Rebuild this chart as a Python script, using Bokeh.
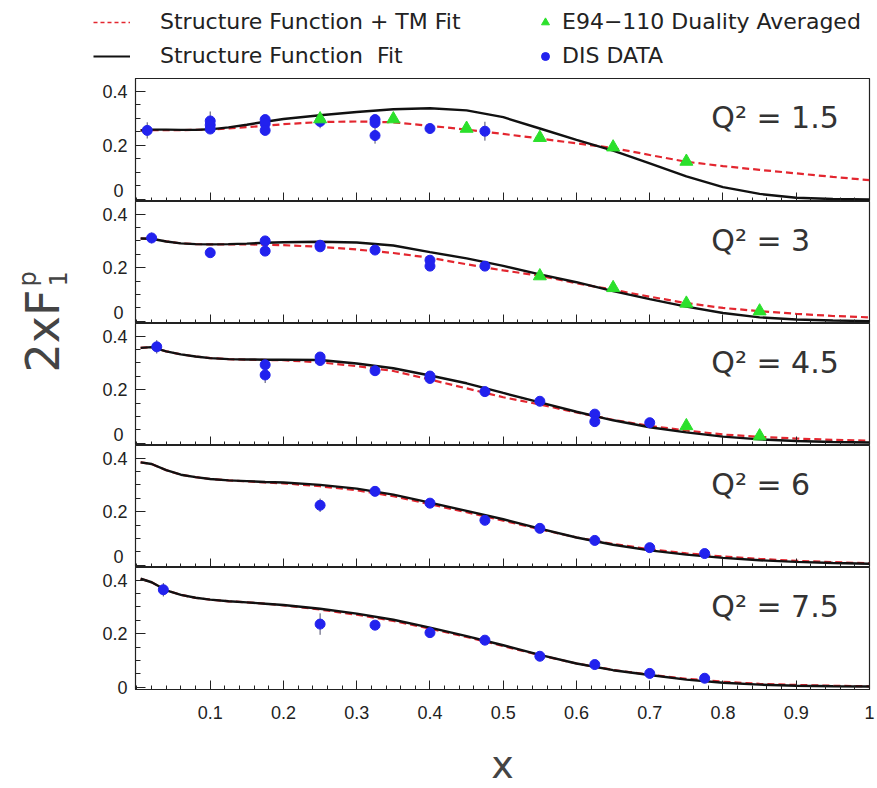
import math
from bokeh.plotting import figure
from bokeh.layouts import column, row
from bokeh.models import (Range1d, FixedTicker, CustomJSTickFormatter, Label, Legend, LegendItem,
                          LinearAxis)
from bokeh.core.properties import value
from bokeh.embed import file_html
from bokeh.resources import INLINE

# ---------------- data ----------------
q2_values = ["1.5", "3", "4.5", "6", "7.5"]
x_ticks = [0.1, 0.2, 0.3, 0.4, 0.5, 0.6, 0.7, 0.8, 0.9, 1.0]
y_ticks = [0.0, 0.2, 0.4]
y_minor = [0.05, 0.1, 0.15, 0.25, 0.3, 0.35]

fit_x = [0.005, 0.02, 0.04, 0.06, 0.08, 0.1, 0.125, 0.15, 0.175, 0.2, 0.25, 0.3, 0.35,
         0.4, 0.45, 0.5, 0.55, 0.6, 0.65, 0.7, 0.75, 0.8, 0.85, 0.9, 0.95, 1.0]

sf_q15 = [0.255, 0.258, 0.258, 0.257, 0.257, 0.259, 0.266, 0.276, 0.287, 0.297, 0.311, 0.323, 0.333,
          0.337, 0.329, 0.304, 0.262, 0.220, 0.180, 0.133, 0.085, 0.045, 0.020, 0.006, 0.001, 0.000]
tm_q15 = [0.255, 0.256, 0.256, 0.256, 0.257, 0.258, 0.262, 0.267, 0.272, 0.278, 0.286, 0.288, 0.285,
          0.272, 0.258, 0.242, 0.225, 0.207, 0.190, 0.164, 0.139, 0.123, 0.109, 0.096, 0.083, 0.071]
sf_q3 = [0.309, 0.308, 0.298, 0.291, 0.288, 0.287, 0.288, 0.290, 0.293, 0.295, 0.297, 0.294, 0.283,
         0.258, 0.235, 0.207, 0.175, 0.146, 0.113, 0.083, 0.055, 0.031, 0.015, 0.007, 0.003, 0.001]
tm_q3 = [0.309, 0.308, 0.298, 0.291, 0.288, 0.287, 0.287, 0.287, 0.286, 0.284, 0.278, 0.268, 0.255,
         0.237, 0.213, 0.190, 0.170, 0.142, 0.118, 0.092, 0.068, 0.050, 0.038, 0.028, 0.020, 0.015]
sf_q45 = [0.356, 0.359, 0.343, 0.332, 0.324, 0.318, 0.314, 0.313, 0.312, 0.312, 0.311, 0.298, 0.280,
          0.253, 0.224, 0.188, 0.153, 0.118, 0.086, 0.060, 0.041, 0.025, 0.015, 0.009, 0.005, 0.003]
tm_q45 = [0.356, 0.359, 0.343, 0.332, 0.324, 0.318, 0.314, 0.312, 0.311, 0.310, 0.302, 0.288, 0.270,
          0.238, 0.205, 0.172, 0.145, 0.115, 0.088, 0.065, 0.048, 0.033, 0.024, 0.018, 0.013, 0.010]
sf_q6 = [0.384, 0.378, 0.355, 0.338, 0.329, 0.322, 0.317, 0.314, 0.311, 0.309, 0.300, 0.286, 0.264,
         0.234, 0.203, 0.172, 0.137, 0.104, 0.077, 0.056, 0.040, 0.028, 0.019, 0.013, 0.009, 0.006]
tm_q6 = [0.384, 0.378, 0.355, 0.338, 0.329, 0.322, 0.317, 0.313, 0.309, 0.306, 0.295, 0.280, 0.258,
         0.228, 0.198, 0.167, 0.135, 0.104, 0.080, 0.060, 0.045, 0.033, 0.024, 0.017, 0.012, 0.008]
sf_q75 = [0.405, 0.392, 0.362, 0.345, 0.334, 0.327, 0.321, 0.317, 0.312, 0.307, 0.293, 0.275, 0.252,
          0.223, 0.191, 0.157, 0.121, 0.089, 0.064, 0.046, 0.029, 0.017, 0.010, 0.006, 0.004, 0.003]
tm_q75 = [0.405, 0.392, 0.362, 0.345, 0.334, 0.327, 0.321, 0.317, 0.312, 0.306, 0.290, 0.271, 0.248,
          0.219, 0.188, 0.154, 0.120, 0.089, 0.065, 0.047, 0.032, 0.021, 0.013, 0.009, 0.006, 0.004]

# DIS data
dis_x_q15 = [0.014, 0.1, 0.1, 0.1, 0.175, 0.175, 0.175, 0.25, 0.325, 0.325, 0.325, 0.4, 0.475]
dis_y_q15 = [0.255, 0.290, 0.275, 0.260, 0.295, 0.280, 0.255, 0.288, 0.295, 0.283, 0.236, 0.262, 0.252]
dis_e_q15 = [0.030, 0.035, 0.010, 0.010, 0.010, 0.010, 0.010, 0.025, 0.010, 0.010, 0.030, 0.010, 0.035]
dis_x_q3 = [0.02, 0.1, 0.175, 0.175, 0.25, 0.25, 0.325, 0.4, 0.4, 0.475]
dis_y_q3 = [0.311, 0.256, 0.300, 0.262, 0.284, 0.278, 0.266, 0.228, 0.206, 0.206]
dis_e_q3 = [0.020, 0.008, 0.010, 0.010, 0.010, 0.010, 0.010, 0.010, 0.010, 0.010]
dis_x_q45 = [0.027, 0.175, 0.175, 0.25, 0.25, 0.325, 0.4, 0.4, 0.475, 0.55, 0.625, 0.625, 0.7]
dis_y_q45 = [0.360, 0.293, 0.255, 0.322, 0.309, 0.271, 0.251, 0.242, 0.193, 0.157, 0.109, 0.081, 0.077]
dis_e_q45 = [0.025, 0.010, 0.030, 0.010, 0.010, 0.010, 0.010, 0.010, 0.010, 0.010, 0.012, 0.012, 0.005]
dis_x_q6 = [0.25, 0.325, 0.4, 0.475, 0.55, 0.625, 0.7, 0.775]
dis_y_q6 = [0.224, 0.276, 0.232, 0.168, 0.138, 0.093, 0.066, 0.044]
dis_e_q6 = [0.025, 0.010, 0.010, 0.010, 0.008, 0.006, 0.005, 0.004]
dis_x_q75 = [0.036, 0.25, 0.325, 0.4, 0.475, 0.55, 0.625, 0.7, 0.775]
dis_y_q75 = [0.364, 0.236, 0.232, 0.204, 0.176, 0.116, 0.085, 0.052, 0.034]
dis_e_q75 = [0.025, 0.040, 0.010, 0.010, 0.010, 0.008, 0.006, 0.005, 0.004]

# E94-110 duality averaged
e94_x_q15 = [0.25, 0.35, 0.45, 0.55, 0.65, 0.75]
e94_y_q15 = [0.297, 0.297, 0.262, 0.228, 0.193, 0.140]
e94_x_q3 = [0.55, 0.65, 0.75, 0.85]
e94_y_q3 = [0.169, 0.125, 0.067, 0.038]
e94_x_q45 = [0.75, 0.85]
e94_y_q45 = [0.065, 0.027]
e94_x_q6 = []
e94_y_q6 = []
e94_x_q75 = []
e94_y_q75 = []

# ---------------- styling ----------------
RED = "#e3262f"
BLACK = "#111111"
BLUE = "#2222ee"
GREEN = "#2be02b"
AXC = "#222222"
TICK_FONT = "Liberation Sans"
TEXT_FONT = "DejaVu Sans"

sf_list = [sf_q15, sf_q3, sf_q45, sf_q6, sf_q75]
tm_list = [tm_q15, tm_q3, tm_q45, tm_q6, tm_q75]
dis_list = [(dis_x_q15, dis_y_q15, dis_e_q15), (dis_x_q3, dis_y_q3, dis_e_q3),
            (dis_x_q45, dis_y_q45, dis_e_q45), (dis_x_q6, dis_y_q6, dis_e_q6),
            (dis_x_q75, dis_y_q75, dis_e_q75)]
e94_list = [(e94_x_q15, e94_y_q15), (e94_x_q3, e94_y_q3), (e94_x_q45, e94_y_q45),
            (e94_x_q6, e94_y_q6), (e94_x_q75, e94_y_q75)]

x_minor = [round(0.02 * k, 2) for k in range(51)]
frame_heights = [123, 122, 122, 122, 122]
BOTTOM = 42
Y0, Y1 = -0.008, 0.447

panels = []
for i in range(5):
    last = (i == 4)
    p = figure(width=787, height=frame_heights[i] + (BOTTOM if last else 0),
               x_range=Range1d(-0.002, 1.0), y_range=Range1d(Y0, Y1),
               output_backend="svg", toolbar_location=None, title=None,
               min_border_left=45, min_border_right=8, min_border_top=0,
               min_border_bottom=(BOTTOM if last else 0))
    p.grid.visible = False
    p.outline_line_color = AXC
    p.outline_line_width = 1.2
    p.background_fill_color = "white"
    p.border_fill_color = "white"

    # y axis (ticks + labels)
    ya = p.yaxis[0]
    ya.ticker = FixedTicker(ticks=y_ticks, minor_ticks=y_minor)
    if last:
        ya.formatter = CustomJSTickFormatter(code="return Math.abs(tick) < 1e-9 ? '0' : tick.toFixed(1);")
    else:
        ya.formatter = CustomJSTickFormatter(code="return Math.abs(tick) < 1e-9 ? '' : tick.toFixed(1);")
    ya.major_tick_in = 10
    ya.major_tick_out = 0
    ya.minor_tick_in = 5
    ya.minor_tick_out = 0
    ya.major_label_standoff = 8
    ya.major_label_text_font = TICK_FONT
    ya.major_label_text_font_size = "18px"
    ya.major_label_text_color = AXC
    ya.axis_line_color = AXC
    ya.major_tick_line_color = AXC
    ya.minor_tick_line_color = AXC

    if not last:
        # the "0" label of the upper panels, lifted so that it stays inside this panel
        za = LinearAxis(ticker=FixedTicker(ticks=[0.0]),
                        formatter=CustomJSTickFormatter(code="return '0';"))
        za.major_tick_in = 0
        za.major_tick_out = 0
        za.minor_tick_in = 0
        za.minor_tick_out = 0
        za.axis_line_color = None
        za.major_tick_line_color = None
        za.minor_tick_line_color = None
        za.major_label_standoff = -24
        za.major_label_text_align = "right"
        za.major_label_text_font = TICK_FONT
        za.major_label_text_font_size = "18px"
        za.major_label_text_color = AXC
        za.major_label_text_baseline = "alphabetic"
        p.add_layout(za, "left")

    # x axis
    xa = p.xaxis[0]
    xa.ticker = FixedTicker(ticks=x_ticks, minor_ticks=x_minor)
    xa.major_tick_in = 9
    xa.major_tick_out = 0
    xa.minor_tick_in = 4
    xa.minor_tick_out = 0
    xa.axis_line_color = AXC
    xa.major_tick_line_color = AXC
    xa.minor_tick_line_color = AXC
    if last:
        xa.formatter = CustomJSTickFormatter(code="return Math.abs(tick - 1) < 1e-9 ? '1' : tick.toFixed(1);")
        xa.major_label_standoff = 16
        xa.major_label_text_font = TICK_FONT
        xa.major_label_text_font_size = "18px"
        xa.major_label_text_color = AXC
    else:
        xa.formatter = CustomJSTickFormatter(code="return '';")
        xa.fixed_location = Y0

    # fits
    p.line(fit_x, tm_list[i], line_color=RED, line_width=2.2, line_dash="7 4")
    p.line(fit_x, sf_list[i], line_color=BLACK, line_width=2.4)

    # DIS data with error bars
    dx, dy, de = dis_list[i]
    lo = [y - e for y, e in zip(dy, de)]
    hi = [y + e for y, e in zip(dy, de)]
    p.segment(x0=dx, y0=lo, x1=dx, y1=hi, line_color="#4a4a6a", line_width=1)
    p.scatter(dx, dy, marker="circle", size=10, fill_color=BLUE, line_color=BLUE)

    ex, ey = e94_list[i]
    if ex:
        p.scatter(ex, ey, marker="triangle", size=13, fill_color=GREEN, line_color=GREEN)

    p.add_layout(Label(x=0.784, y=0.303, text="Q² = " + q2_values[i],
                       text_font=TEXT_FONT, text_font_size="30px", text_color="#333333",
                       text_baseline="alphabetic"))
    panels.append(p)

# ---------------- legend strip ----------------
lg = figure(width=877, height=78, x_range=Range1d(0, 877), y_range=Range1d(78, 0),
            output_backend="svg", toolbar_location=None, title=None,
            x_axis_type=None, y_axis_type=None, min_border=0)
lg.outline_line_color = None
# legend-sample renderers, placed off the visible area
r_tm = lg.line(x=[-50, -40], y=[-50, -50], line_color=RED, line_width=1.5, line_dash="4 3")
r_sf = lg.line(x=[-50, -40], y=[-50, -50], line_color=BLACK, line_width=2)
r_e94 = lg.scatter(x=[-50], y=[-50], marker="triangle", size=9, fill_color=GREEN, line_color=GREEN)
r_dis = lg.scatter(x=[-50], y=[-50], marker="circle", size=7, fill_color=BLUE, line_color=BLUE)

def style_legend(leg):
    leg.background_fill_alpha = 0
    leg.border_line_color = None
    leg.padding = 0
    leg.margin = 0
    leg.spacing = 9
    leg.glyph_height = 20
    leg.label_height = 20
    leg.label_text_font = TEXT_FONT
    leg.label_text_font_size = "22px"
    leg.label_text_color = AXC
    leg.label_text_baseline = "middle"

leg1 = Legend(items=[LegendItem(label="Structure Function + TM Fit", renderers=[r_tm]),
                     LegendItem(label="Structure Function  Fit", renderers=[r_sf])],
              location=(93, 10))
style_legend(leg1)
leg1.glyph_width = 37
leg1.label_standoff = 30
leg2 = Legend(items=[LegendItem(label="E94−110 Duality Averaged", renderers=[r_e94]),
                     LegendItem(label="DIS DATA", renderers=[r_dis])],
              location=(535, 10))
style_legend(leg2)
leg2.glyph_width = 20
leg2.label_standoff = 7
lg.add_layout(leg1)
lg.add_layout(leg2)

# ---------------- y title strip ----------------
mid_h = sum(frame_heights) + BOTTOM
yl = figure(width=90, height=mid_h, x_range=Range1d(0, 90), y_range=Range1d(78 + mid_h, 78),
            output_backend="svg", toolbar_location=None, title=None,
            x_axis_type=None, y_axis_type=None, min_border=0)
yl.outline_line_color = None
yl.text(x=[42], y=[372], text=["2xF"], angle=math.pi / 2, text_font=value(TEXT_FONT),
        text_font_size="46px", text_color="#444444", text_align="left", text_baseline="middle")
yl.text(x=[57], y=[286], text=["1"], angle=math.pi / 2, text_font=value(TEXT_FONT),
        text_font_size="24px", text_color="#444444", text_align="left", text_baseline="middle")
yl.text(x=[27], y=[286], text=["p"], angle=math.pi / 2, text_font=value(TEXT_FONT),
        text_font_size="24px", text_color="#444444", text_align="left", text_baseline="middle")

# ---------------- x title strip ----------------
top_xl = 78 + mid_h
xl_h = 788 - top_xl
xl = figure(width=877, height=xl_h, x_range=Range1d(0, 877), y_range=Range1d(788, top_xl),
            output_backend="svg", toolbar_location=None, title=None,
            x_axis_type=None, y_axis_type=None, min_border=0)
xl.outline_line_color = None
xl.text(x=[502], y=[764], text=["x"], text_font=value(TEXT_FONT), text_font_size="38px",
        text_color="#444444", text_align="center", text_baseline="middle")

layout = column(lg, row(yl, column(*panels)), xl)
open("out.html", "w").write(file_html(layout, INLINE))
